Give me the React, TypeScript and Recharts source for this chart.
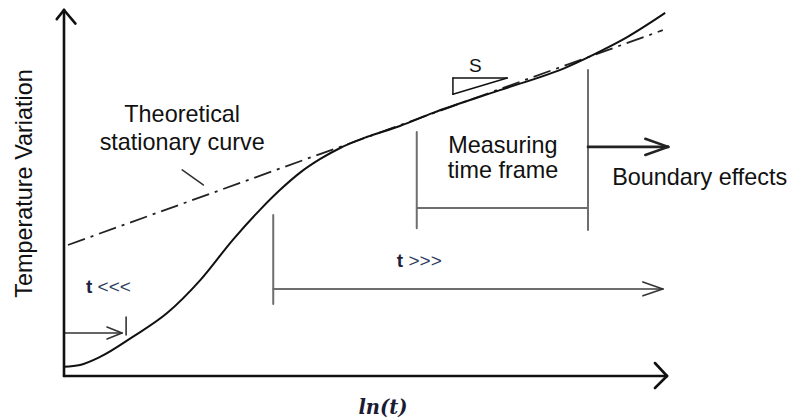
import React from 'react';
import { ComposedChart, Line, XAxis, YAxis, ReferenceLine, ReferenceDot } from 'recharts';

// Schematic curves in abstract units (x: ln(t) 0..100, y: temperature 0..100)
const measuredCurve = [
  { x: 0, y: 2.5 }, { x: 2.65, y: 3.0 }, { x: 5.97, y: 5.2 }, { x: 11.4, y: 10.7 },
  { x: 17.1, y: 17.2 }, { x: 22.6, y: 26.2 }, { x: 28.0, y: 37.2 }, { x: 32.5, y: 45.4 },
  { x: 35.8, y: 50.8 }, { x: 39.1, y: 55.5 }, { x: 42.5, y: 59.3 }, { x: 45.8, y: 62.3 },
  { x: 50.2, y: 65.3 }, { x: 55.7, y: 68.3 },
  { x: 61.2, y: 71.9 }, { x: 72.3, y: 78.1 }, { x: 83.4, y: 84.4 }, { x: 89.4, y: 89.1 },
  { x: 93.4, y: 92.6 }, { x: 99.7, y: 99.2 },
];
const stationaryCurve = [
  { x: 0.66, y: 35.8 }, { x: 55.7, y: 68.5 }, { x: 99.3, y: 94.5 },
];

type P = { x: number; y: number };
type Seg = [P, P];

const axisSegs: Seg[] = [
  [{ x: 0, y: 0 }, { x: 0, y: 100 }],
  [{ x: -1.2, y: 97.5 }, { x: 0, y: 100 }],
  [{ x: 1.9, y: 96.3 }, { x: 0, y: 100 }],
  [{ x: 0, y: 0 }, { x: 100, y: 0 }],
  [{ x: 98, y: 3.55 }, { x: 100, y: 0 }],
  [{ x: 98, y: -3.28 }, { x: 100, y: 0 }],
];
const bracketSegs: Seg[] = [
  [{ x: 58.5, y: 66.7 }, { x: 58.5, y: 40.4 }],
  [{ x: 86.9, y: 83.6 }, { x: 86.9, y: 39.9 }],
  [{ x: 58.5, y: 45.9 }, { x: 86.9, y: 45.9 }],
  [{ x: 34.7, y: 44.0 }, { x: 34.7, y: 19.7 }],
  [{ x: 34.7, y: 23.8 }, { x: 99.3, y: 23.8 }],
];
const arrowHeadSegs: Seg[] = [
  [{ x: 96, y: 25.7 }, { x: 99.3, y: 23.8 }],
  [{ x: 96, y: 21.9 }, { x: 99.3, y: 23.8 }],
  [{ x: 0, y: 11.75 }, { x: 9.6, y: 11.75 }],
  [{ x: 10.3, y: 16.1 }, { x: 10.3, y: 11.2 }],
  [{ x: 7.13, y: 13.4 }, { x: 9.62, y: 11.75 }],
  [{ x: 7.13, y: 10.1 }, { x: 9.62, y: 11.75 }],
  [{ x: 19.6, y: 56.3 }, { x: 23.1, y: 52.2 }],
];
const boundarySegs: Seg[] = [
  [{ x: 86.9, y: 62.6 }, { x: 100.2, y: 62.6 }],
  [{ x: 96.4, y: 64.8 }, { x: 100.2, y: 62.6 }],
  [{ x: 96.4, y: 60.4 }, { x: 100.2, y: 62.6 }],
];
const slopeSegs: Seg[] = [
  [{ x: 64.5, y: 81.4 }, { x: 73.5, y: 81.4 }],
  [{ x: 73.5, y: 81.4 }, { x: 64.5, y: 77.0 }],
  [{ x: 64.5, y: 77.0 }, { x: 64.5, y: 81.4 }],
];

const centeredNotes = [
  { x: 19.6, y: 69.4, text: 'Theoretical' },
  { x: 19.6, y: 61.7, text: 'stationary curve' },
  { x: 72.8, y: 61.0, text: 'Measuring' },
  { x: 72.8, y: 54.1, text: 'time frame' },
];

const SANS = '"Liberation Sans", Arial, sans-serif';
const BIG = 23.4;

const textAt = (render: (x: number, y: number) => React.ReactNode) => (props: any) => {
  const vb = props.viewBox || {};
  const x = (vb.x ?? 0) + (vb.width ?? 0) / 2;
  const y = (vb.y ?? 0) + (vb.height ?? 0) / 2;
  return <g>{render(x, y)}</g>;
};

const segLines = (segs: Seg[], stroke: string, width: number, key: string) =>
  segs.map((s, i) => (
    <ReferenceLine
      key={key + i}
      segment={s}
      stroke={stroke}
      strokeWidth={width}
      strokeLinecap="round"
      ifOverflow="visible"
    />
  ));

export default function App() {
  return (
    <div style={{ position: 'absolute', left: 0, top: 0, background: '#fff' }}>
      <ComposedChart
        width={793}
        height={419}
        margin={{ left: 64, top: 10, right: 126, bottom: 43 }}
      >
        <XAxis type="number" dataKey="x" domain={[0, 100]} hide allowDataOverflow />
        <YAxis type="number" dataKey="y" domain={[0, 100]} hide allowDataOverflow />
        {segLines(bracketSegs, '#6e6e6e', 2, 'b')}
        {segLines(arrowHeadSegs, '#333', 1.6, 'a')}
        {segLines(slopeSegs, '#111', 1.5, 's')}
        {segLines(boundarySegs, '#222', 2.6, 'e')}
        {segLines(axisSegs, '#111', 2.6, 'x')}
        <Line
          data={stationaryCurve}
          dataKey="y"
          type="linear"
          stroke="#222"
          strokeWidth={1.8}
          strokeDasharray="18 6 3 6"
          dot={false}
          isAnimationActive={false}
        />
        <Line
          data={measuredCurve}
          dataKey="y"
          type="monotone"
          stroke="#111"
          strokeWidth={2}
          dot={false}
          isAnimationActive={false}
        />
        {centeredNotes.map((n, i) => (
          <ReferenceDot
            key={'n' + i}
            x={n.x}
            y={n.y}
            r={0}
            stroke="none"
            fill="none"
            ifOverflow="visible"
            label={{
              content: textAt((x, y) => (
                <text x={x} y={y} textAnchor="middle" fontFamily={SANS} fontSize={BIG} fill="#111">
                  {n.text}
                </text>
              )),
            }}
          />
        ))}
        <ReferenceDot
          x={90.9}
          y={52.2}
          r={0}
          stroke="none"
          fill="none"
          ifOverflow="visible"
          label={{
            content: textAt((x, y) => (
              <text x={x} y={y} textAnchor="start" fontFamily={SANS} fontSize={BIG} fill="#111">
                Boundary effects
              </text>
            )),
          }}
        />
        <ReferenceDot
          x={68.2}
          y={83.1}
          r={0}
          stroke="none"
          fill="none"
          ifOverflow="visible"
          label={{
            content: textAt((x, y) => (
              <text x={x} y={y} textAnchor="middle" fontFamily={SANS} fontSize={19} fill="#111">
                S
              </text>
            )),
          }}
        />
        <ReferenceDot
          x={3.65}
          y={22.8}
          r={0}
          stroke="none"
          fill="none"
          ifOverflow="visible"
          label={{
            content: textAt((x, y) => (
              <text x={x} y={y} textAnchor="start" fontFamily={SANS} fontSize={19} fill="#1c2340">
                <tspan fontWeight="bold">t</tspan>
                <tspan fill="#2d3b5e"> {'<<<'}</tspan>
              </text>
            )),
          }}
        />
        <ReferenceDot
          x={55.2}
          y={29.9}
          r={0}
          stroke="none"
          fill="none"
          ifOverflow="visible"
          label={{
            content: textAt((x, y) => (
              <text x={x} y={y} textAnchor="start" fontFamily={SANS} fontSize={19} fill="#1c2340">
                <tspan fontWeight="bold">t</tspan>
                <tspan fill="#2d3b5e"> {'>>>'}</tspan>
              </text>
            )),
          }}
        />
        <ReferenceDot
          x={52.9}
          y={-10.4}
          r={0}
          stroke="none"
          fill="none"
          ifOverflow="visible"
          label={{
            content: textAt((x, y) => (
              <text
                x={x}
                y={y}
                textAnchor="middle"
                fontFamily='"DejaVu Serif", serif'
                fontStyle="italic"
                fontWeight="bold"
                fontSize={19.5}
                fill="#1b1b33"
              >
                ln(t)
              </text>
            )),
          }}
        />
        <ReferenceDot
          x={-5.36}
          y={52.6}
          r={0}
          stroke="none"
          fill="none"
          ifOverflow="visible"
          label={{
            content: textAt((x, y) => (
              <text
                x={x}
                y={y}
                transform={`rotate(-90 ${x} ${y})`}
                textAnchor="middle"
                fontFamily={SANS}
                fontSize={BIG}
                fill="#111"
              >
                Temperature Variation
              </text>
            )),
          }}
        />
      </ComposedChart>
    </div>
  );
}
